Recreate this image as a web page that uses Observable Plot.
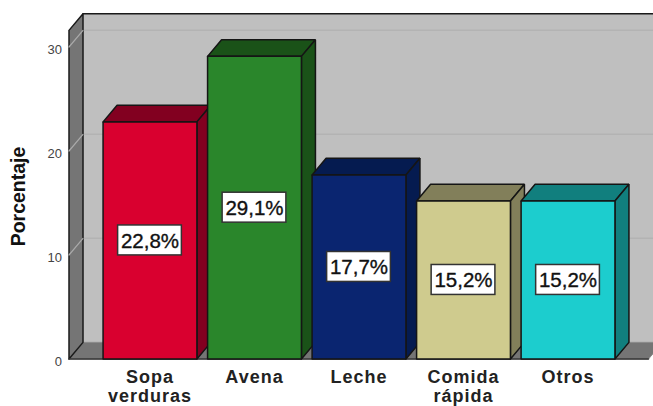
<!DOCTYPE html>
<html><head><meta charset="utf-8">
<script src="https://cdn.jsdelivr.net/npm/d3@7"></script>
<script src="https://cdn.jsdelivr.net/npm/@observablehq/plot@0.6"></script>
<style>
html,body{margin:0;padding:0;background:#fff;overflow:hidden}
svg{display:block;font-family:"Liberation Sans",Arial,sans-serif}
[aria-label="x-axis tick label"] text{letter-spacing:1px}
</style></head><body><div id="c"></div>
<script>
const categories = ["Sopa\nverduras","Avena","Leche","Comida\nrápida","Otros"];
const values = [22.8,29.1,17.7,15.2,15.2];
const valueLabels = ["22,8%","29,1%","17,7%","15,2%","15,2%"];
const yTicks = [0,10,20,30];
const frontColors = ["#d9002f","#2a862b","#0a2570","#cfcb8e","#1ccdce"];
const darkColors = ["#820020","#1a5218","#051b50","#827f5a","#117f7e"];
const yLabel = "Porcentaje";

// chart geometry, in scale units
const halfBar=.449, dx=.134, dy=1.6, wallL=-.775, wallR=4.77, wallT=31.6;
const boxW=.305, boxH=1.44;

const faces=[];
const poly=(id,fill,pts)=>pts.concat([pts[0]]).forEach(([x,y])=>faces.push({id,fill,x,y}));
values.forEach((v,i)=>{
  const a=i-halfBar,b=i+halfBar;
  poly(`t${i}`,darkColors[i],[[a,v],[b,v],[b+dx,v+dy],[a+dx,v+dy]]);
  poly(`s${i}`,darkColors[i],[[b,0],[b,v],[b+dx,v+dy],[b+dx,dy]]);
  poly(`f${i}`,frontColors[i],[[a,0],[b,0],[b,v],[a,v]]);
});
const seg=(id,pts)=>pts.map(([x,y])=>({id,x,y}));
const sideWall=[[wallL,0],[wallL,wallT],[wallL+dx,wallT+dy],[wallL+dx,dy],[wallL,0]];
const floor=[[wallL,0],[wallL+dx,dy],[wallR+dx,dy],[wallR,0],[wallL,0]];
const back=[[wallL+dx,dy],[wallL+dx,wallT+dy],[wallR+dx,wallT+dy],[wallR+dx,dy],[wallL+dx,dy]];

const chart=Plot.plot({
  width:653,height:406,
  marginLeft:68.5,marginRight:5,marginTop:33.5,marginBottom:47.5,
  x:{domain:[wallL,wallR]},
  y:{domain:[0,31.25]},
  color:{type:"identity"},
  marks:[
    Plot.line(seg("back",back),{x:"x",y:"y",fill:"#bfbfbf",stroke:"none"}),
    Plot.ruleY(yTicks.slice(1),{y:d=>d+dy,x1:wallL+dx,x2:wallR+dx,stroke:"#b3b3b3",strokeWidth:1.5}),
    Plot.line(seg("floor",floor),{x:"x",y:"y",fill:"#757575",stroke:"#8a8a8a",strokeWidth:1}),
    Plot.line(seg("side",sideWall),{x:"x",y:"y",fill:"#757575",stroke:"#1a1a1a",strokeWidth:1.5}),
    Plot.line(yTicks.slice(1).flatMap(t=>seg("g"+t,[[wallL,t],[wallL+dx,t+dy]])),{x:"x",y:"y",z:"id",stroke:"#aaaaaa",strokeWidth:1.2}),
    Plot.line(seg("top",[[wallL+dx,wallT+dy],[wallR+dx,wallT+dy]]),{x:"x",y:"y",stroke:"#1a1a1a",strokeWidth:1.5}),
    Plot.line(seg("base",[[wallL,0],[wallR,0]]),{x:"x",y:"y",stroke:"#333",strokeWidth:1.5}),
    Plot.line(faces,{x:"x",y:"y",z:"id",fill:"fill",stroke:"#151515",strokeWidth:1.5,strokeLinejoin:"miter"}),
    Plot.rect(values,{x1:(d,i)=>i-boxW,x2:(d,i)=>i+boxW,y1:d=>d/2-boxH,y2:d=>d/2+boxH,fill:"#fff",stroke:"#333",strokeWidth:1.5}),
    Plot.text(values,{x:(d,i)=>i,y:d=>d/2,text:(d,i)=>valueLabels[i],fontSize:20.5,fill:"#111",stroke:"#111",strokeWidth:.35,dy:.5}),
    Plot.axisY({ticks:yTicks,tickSize:0,tickPadding:7,label:null,fontSize:13,fill:"#444",anchor:"left",dy:2.5}),
    Plot.axisX({ticks:d3.range(categories.length),tickFormat:i=>categories[i],tickSize:0,tickPadding:10,label:null,fontSize:18,fontWeight:"bold",lineHeight:1.06,fill:"#222",anchor:"bottom",lineAnchor:"top"}),
    Plot.text([yLabel],{frameAnchor:"left",textAnchor:"middle",rotate:-90,dx:-50,fontSize:19.5,fontWeight:"bold",fill:"#111"})
  ]
});
document.getElementById("c").append(chart);
</script></body></html>
